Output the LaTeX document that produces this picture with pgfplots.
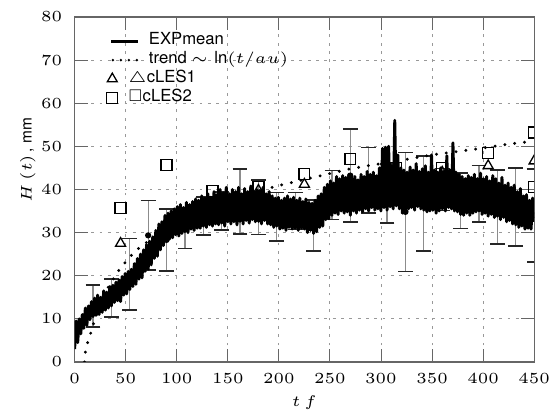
\documentclass[border=0pt]{standalone}
\usepackage{amssymb}
\usepackage{fontspec}
\setmainfont{TeX Gyre Heros}
\usepackage{pgfplots}
\pgfplotsset{compat=1.18}
\usepackage{pgfplotstable}

\pgfplotstableread{
t y e
18 12.95 4.85
36 14.8 4.4
54 20.3 8.3
72 29.35 8.05
90 28.3 7.2
108 31.0 4.7
126 33.8 4.4
144 35.0 4.4
162 37.25 7.55
180 35.9 6.3
198 33.65 5.65
216 35.0 4.3
234 31.6 5.9
252 38.7 5.7
270 43.2 10.8
288 42.15 7.55
306 39.05 6.85
324 34.8 13.8
342 36.75 11.05
360 40.0 4.9
378 37.35 6.45
396 39.0 6.6
414 35.9 8.6
432 35.95 9.05
450 34.0 10.8
}\errdata

\pgfplotstableread{
t y
9.6 0
10.7 2.6
12 4.0
14.6 5.8
20 10.0
25 13.5
30.8 16.5
42.2 20.9
48.7 22.8
55 24.6
63.3 26.5
80 29.3
100 32.2
125 35.0
150 37.3
175 39.3
200 40.9
225 42.3
245 43.4
270 44.8
300 46.0
326 47.0
350 48.0
378 48.9
400 49.6
425 50.5
450 51.2
}\trenddata

\pgfplotstableread{
t y
45 27.5
90 32.5
135 36.5
180 39.8
225 41.2
270 42.3
315 43.2
360 44.0
405 45.5
450 46.6
}\lesone

\pgfplotstableread{
t y
45 35.7
90 45.6
135 39.7
180 40.6
225 43.6
270 47.0
315 45.0
360 45.0
405 48.4
450 53.2
}\lestwo

\pgfplotsset{
  markleg/.style={legend image code/.code={\path[draw=none,fill=none] (-1.6pt,-2pt) rectangle (8.7pt,2pt); \draw[##1] plot coordinates {(0.3pt,0pt)};}},
}

\begin{document}
\fontsize{5}{6}\selectfont
\begin{tikzpicture}
\begin{axis}[
  scale only axis, width=149pt, height=111.9pt,
  xmin=0, xmax=450, ymin=0, ymax=80,
  xtick={0,50,...,450}, ytick={0,10,...,80},
  grid=major,
  grid style={dash pattern=on 0.9pt off 1.8pt, black!40, line width=0.3pt},
  axis line style={black!60, line width=0.4pt},
  tick style={black!60, line width=0.3pt},
  major tick length=4.2pt,
  yticklabel style={xshift=-2.2pt},
  xticklabel style={yshift=-1.9pt},
  xlabel={$t\,f$},
  ylabel={$H\left(t\right)$\,, mm},
  xlabel style={at={(axis description cs:0.5,0)}, anchor=center, yshift=-13.2pt},
  ylabel style={at={(axis description cs:-0.102,0.585)}, anchor=center},
  clip marker paths=true,
  legend cell align=left,
  legend style={draw=none, fill=none, font=\fontsize{5.4}{6.5}\selectfont,
    at={(axis description cs:0.0692,0.8475)}, anchor=west,
    row sep=0pt, inner sep=0pt, outer sep=0pt,
    nodes={inner sep=0pt, outer sep=0pt, text height=4.2pt, text depth=1.9pt}},
]
% error bars (behind)
\addplot[forget plot, only marks, mark=*, mark size=0.8pt, black,
  error bars/.cd, y dir=both, y explicit,
  error bar style={black!45, line width=0.4pt},
  error mark options={rotate=90, black!85, mark size=2.4pt, line width=0.5pt}]
  table[x=t, y=y, y error=e] {\errdata};

% EXPmean
\addplot[black, line width=0.95pt, line join=round,
  legend image code/.code={\path[draw=none,fill=none] (-1.6pt,-2pt) rectangle (8.7pt,2pt); \draw[black, line width=1pt] (0pt,0pt) -- (8.7pt,0pt);}]
coordinates {
(0,3.0) (1.5,9.5) (3,4.5) (4.5,10.0) (6,6.5) (7.5,11.0) (9,7.8) (10.5,12.5) (12,8.5) (13.5,13.0)
(15,9.8) (16.5,14.0) (18,10.5) (19.5,14.8) (21,10.8) (22.5,15.5) (24,11.0) (25.5,15.0) (27,11.5) (28.5,16.5)
(30,12.0) (31.5,16.2) (33,12.5) (34.5,17.5) (36,13.0) (37.5,17.8) (39,13.8) (40.5,18.5) (42,14.2) (43.5,19.0)
(45,14.0) (46.5,19.8) (48,15.5) (49.5,20.5) (51,15.8) (52.5,21.0) (54,16.8) (55.5,21.5) (57,17.5) (58.5,22.8)
(60,18.0) (61.5,24.0) (63,19.2) (64.5,25.0) (66,19.5) (67.5,26.0) (69,21.0) (70.5,27.2) (72,21.5) (73.5,28.0)
(75,22.5) (76.5,29.0) (78,24.0) (79.5,30.5) (81,24.5) (82.5,32.0) (84,26.0) (85.5,32.5) (87,27.0) (88.5,34.0)
(90,28.0) (91.5,34.5) (93,28.5) (94.5,35.0) (96,28.8) (97.5,35.5) (99,29.5) (100.5,36.0) (102,29.2) (103.5,36.5)
(105,29.8) (106.5,35.8) (108,30.2) (109.5,37.0) (111,30.0) (112.5,36.5) (114,30.8) (115.5,37.2) (117,30.5) (118.5,37.8)
(120,31.0) (121.5,37.5) (123,31.0) (124.5,38.5) (126,31.5) (127.5,38.0) (129,31.2) (130.5,39.0) (132,31.8) (133.5,38.2)
(135,31.5) (136.5,39.5) (138,32.0) (139.5,38.8) (141,31.8) (142.5,40.0) (144,32.2) (145.5,39.2) (147,31.5) (148.5,40.5)
(150,32.5) (151.5,39.0) (153,32.0) (154.5,40.0) (156,32.5) (157.5,39.5) (159,31.8) (160.5,40.5) (162,32.6) (163.5,39.0)
(165,32.0) (166.5,40.2) (168,32.8) (169.5,39.5) (171,32.2) (172.5,40.8) (174,33.0) (175.5,39.5) (177,32.5) (178.5,40.0)
(180,32.6) (181.5,39.8) (183,32.0) (184.5,40.5) (186,32.8) (187.5,39.0) (189,32.0) (190.5,39.5) (192,31.8) (193.5,38.5)
(195,31.2) (196.5,38.0) (198,31.5) (199.5,38.2) (201,30.8) (202.5,37.5) (204,31.0) (205.5,38.0) (207,30.5) (208.5,38.5)
(210,31.2) (211.5,37.8) (213,30.8) (214.5,38.2) (216,31.0) (217.5,37.5) (219,30.5) (220.5,38.0) (222,31.0) (223.5,37.2)
(225,30.8) (226.5,37.8) (228,30.0) (229.5,37.0) (231,30.5) (232.5,36.8) (234,29.8) (235.5,37.5) (237,30.2) (238.5,38.5)
(240,31.2) (241.5,39.0) (243,31.5) (244.5,40.5) (246,33.0) (247.5,41.2) (249,33.2) (250.5,42.0) (252,34.0) (253.5,41.5)
(255,34.5) (256.5,43.0) (258,34.2) (259.5,42.5) (261,35.0) (262.5,43.2) (264,34.5) (265.5,42.8) (267,34.8) (268.5,43.5)
(270,34.0) (271.5,42.5) (273,35.0) (274.5,43.0) (276,34.5) (277.5,42.2) (279,35.2) (280.5,43.5) (282,34.8) (283.5,43.0)
(285,35.5) (286.5,44.2) (288,35.0) (289.5,43.5) (291,35.8) (292.5,44.0) (294,35.2) (295.5,43.2) (297,35.5) (298.5,45.0)
(300,35.0) (301.5,49.5) (303,35.8) (304.5,49.8) (306,35.2) (307.5,50.0) (309,36.0) (310.5,45.5) (312,35.5) (313.5,56.0)
(315,36.2) (316.5,48.0) (318,35.5) (319.5,45.0) (321,34.5) (322.5,44.5) (324,35.0) (325.5,44.0) (327,35.5) (328.5,45.2)
(330,35.8) (331.5,44.5) (333,35.2) (334.5,46.0) (336,36.0) (337.5,44.2) (339,35.5) (340.5,44.8) (342,35.2) (343.5,45.5)
(345,34.8) (346.5,44.0) (348,35.0) (349.5,48.0) (351,35.2) (352.5,44.5) (354,34.5) (355.5,44.0) (357,35.0) (358.5,45.0)
(360,35.5) (361.5,44.2) (363,35.0) (364.5,47.8) (366,35.8) (367.5,44.5) (369,35.5) (370.5,50.8) (372,35.0) (373.5,44.0)
(375,34.8) (376.5,43.5) (378,34.2) (379.5,43.0) (381,34.0) (382.5,42.5) (384,34.5) (385.5,43.2) (387,34.0) (388.5,42.8)
(390,34.5) (391.5,43.5) (393,34.8) (394.5,42.5) (396,35.0) (397.5,43.8) (399,34.2) (400.5,42.5) (402,34.5) (403.5,43.0)
(405,33.8) (406.5,42.0) (408,34.2) (409.5,43.2) (411,33.5) (412.5,42.5) (414,33.8) (415.5,41.5) (417,33.0) (418.5,42.8)
(420,33.5) (421.5,41.0) (423,32.5) (424.5,41.5) (426,32.8) (427.5,40.5) (429,32.0) (430.5,41.0) (432,31.8) (433.5,39.5)
(435,31.2) (436.5,40.2) (438,31.5) (439.5,38.5) (441,30.8) (442.5,38.8) (444,31.0) (445.5,37.5) (447,30.8) (448.5,38.0)
(450,32.5)
};
\addlegendentry{\hspace{3.0pt}EXPmean}

% trend
\addplot[black, line width=1.05pt, dash pattern=on 0pt off 3.2pt, line cap=round,
  legend image code/.code={\path[draw=none,fill=none] (-1.6pt,-2pt) rectangle (8.7pt,2pt); \draw[black, line width=0.9pt, line cap=round, dash pattern=on 0pt off 2.6pt] (0.5pt,0pt) -- (8.7pt,0pt);}]
  table[x=t, y=y] {\trenddata};
\addlegendentry{\hspace{3.0pt}trend $\sim \ln(t/au)$}

% cLES1
\addplot[only marks, black, mark=triangle, mark size=1.87pt,
  mark options={fill=white, line width=0.42pt}, markleg]
  table[x=t, y=y] {\lesone};
\addlegendentry{\hspace{-3.8pt}$\triangle$cLES1}

% cLES2
\addplot[only marks, black, mark=square, mark size=1.77pt,
  mark options={fill=white, line width=0.42pt}, markleg]
  table[x=t, y=y] {\lestwo};
\addlegendentry{\hspace{-3.8pt}{\fontsize{4.4}{5}\selectfont$\square$}cLES2}

\addplot[forget plot, only marks, black, mark=square, mark size=1.77pt,
  mark options={fill=white, line width=0.42pt}]
  coordinates {(450,40.6)};
\end{axis}
\path ([shift={(-24.2pt,-16.77pt)}]current axis.south west) rectangle ([shift={(5.8pt,5.48pt)}]current axis.north east);
\end{tikzpicture}
\end{document}
